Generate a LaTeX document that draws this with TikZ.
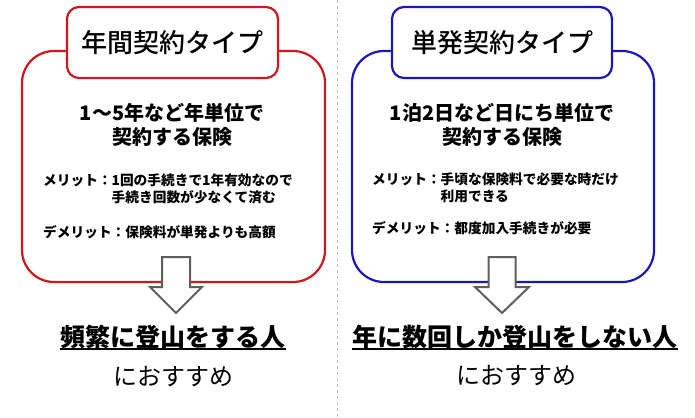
\documentclass[tikz,border=0pt]{standalone}
\usepackage{fontspec}
\setmainfont{Noto Sans CJK JP}
\newfontfamily\titlefont{Noto Sans CJK JP Medium}
\usetikzlibrary{positioning}

\definecolor{planred}{RGB}{204,24,30}
\definecolor{planblue}{RGB}{28,22,190}
\definecolor{arrowgray}{RGB}{95,95,95}

\tikzset{
  bigbox/.style={draw, line width=2.2pt, rounded corners=32pt, fill=white, inner sep=0pt},
  titlebox/.style={draw, line width=2.2pt, rounded corners=12pt, fill=white, inner sep=0pt,
    minimum height=71pt, font=\fontsize{26}{30}\selectfont\titlefont},
  headtext/.style={inner sep=0pt, font=\fontsize{20}{24}\selectfont\bfseries},
  notetext/.style={anchor=west, inner sep=0pt, font=\fontsize{13.7}{17}\selectfont\bfseries},
  whotext/.style={inner sep=0pt, font=\fontsize{25}{30}\selectfont\bfseries},
  osusume/.style={inner sep=0pt, font=\fontsize{24}{28}\selectfont},
  bigarrow/.style={draw=arrowgray, fill=white, line width=2pt, line join=miter},
  uline/.style={line width=1.6pt, line cap=butt}
}

\begin{document}
\begin{tikzpicture}[x=1pt, y=-1pt]
\useasboundingbox (0,0) rectangle (695,417);

% divider
\draw[dashed, gray!45, thin] (337,0) -- (337,417);

% LEFT PLAN

% outer box and title
\node[bigbox, draw=planred, minimum width=303pt, minimum height=231pt] (lbox) at (173.5,166.5) {};
\node[titlebox, draw=planred, minimum width=211pt] (ltitle) at (172.5,42.5) {年間契約タイプ};

% heading
\node[headtext] (lheada) at (172,113) {1〜5年など年単位で};
\node[headtext] (lheadb) at (172,137) {契約する保険};

% merit / demerit
\node[notetext] (lmerit) at (43,190.5) {\begin{tabular}{@{}l@{}l@{}}
  メリット：&1回の手続きで1年有効なので\\
  &手続き回数が少なくて済む
\end{tabular}};
\node[notetext] (ldemerit) at (43,232) {デメリット：保険料が単発よりも高額};

% down arrow
\draw[bigarrow] (162,257) -- (190,257) -- (190,287) -- (202,287) -- (176,313)
  -- (150,287) -- (162,287) -- cycle;

% who it suits
\node[whotext] (lwho) at (173,337) {頻繁に登山をする人};
\draw[uline] ([yshift=-2.5pt]lwho.base west) -- ([yshift=-2.5pt]lwho.base east);
\node[osusume] (lfor) at (173,377) {におすすめ};

% RIGHT PLAN

% outer box and title
\node[bigbox, draw=planblue, minimum width=302pt, minimum height=231pt] (rbox) at (503,166.5) {};
\node[titlebox, draw=planblue, minimum width=220pt] (rtitle) at (502,42.5) {単発契約タイプ};

% heading
\node[headtext] (rheada) at (502,113) {1泊2日など日にち単位で};
\node[headtext] (rheadb) at (502,137) {契約する保険};

% merit / demerit
\node[notetext] (rmerit) at (372,190) {\begin{tabular}{@{}l@{}l@{}}
  メリット：&手頃な保険料で必要な時だけ\\
  &利用できる
\end{tabular}};
\node[notetext] (rdemerit) at (372,228) {デメリット：都度加入手続きが必要};

% down arrow
\draw[bigarrow] (488.5,257) -- (515.5,257) -- (515.5,287) -- (529,287) -- (502,313)
  -- (475,287) -- (488.5,287) -- cycle;

% who it suits
\node[whotext] (rwho) at (515,337) {年に数回しか登山をしない人};
\draw[uline] ([yshift=-2.5pt]rwho.base west) -- ([yshift=-2.5pt]rwho.base east);
\node[osusume] (rfor) at (516,376) {におすすめ};

\end{tikzpicture}
\end{document}
